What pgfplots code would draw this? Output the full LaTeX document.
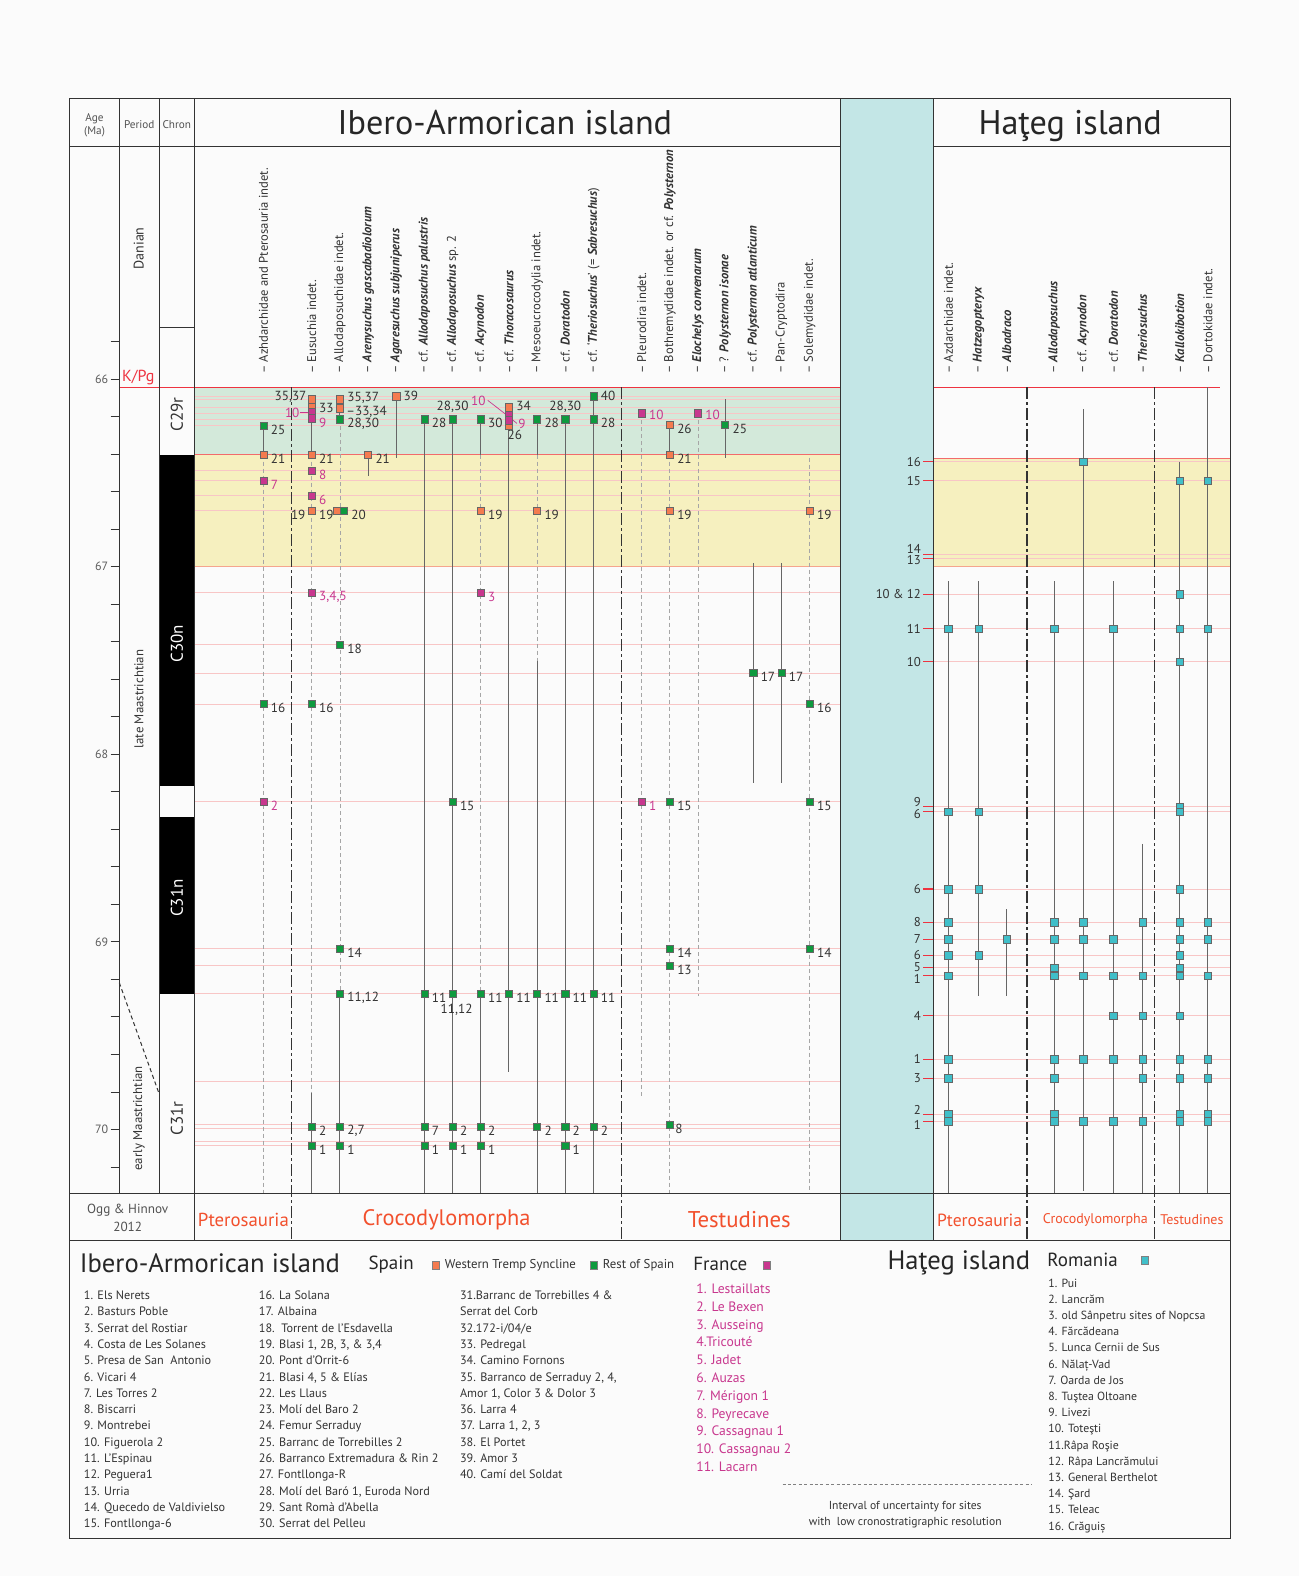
\documentclass[border=0pt]{standalone}
\usepackage{pgfplots}
\usepackage{pgfplotstable}
\pgfplotsset{compat=1.18}
\usepackage{fontspec}
\setmainfont{PT Sans}
\setsansfont{PT Sans}

\definecolor{ink}{HTML}{333333}
\definecolor{pagebg}{HTML}{FBFBFB}
\definecolor{kpg}{HTML}{EE3340}
\definecolor{pinkl}{HTML}{F8C6C6}
\definecolor{bandred}{HTML}{F26B6B}
\definecolor{bandlow}{HTML}{F5A58E}
\definecolor{greenband}{HTML}{D3E9DA}
\definecolor{yellowband}{HTML}{F6F0BF}
\definecolor{cyanband}{HTML}{C3E6E6}
\definecolor{wts}{HTML}{F47B4F}
\definecolor{ros}{HTML}{0E9A3E}
\definecolor{fra}{HTML}{C8378E}
\definecolor{rom}{HTML}{40BFC9}
\definecolor{grp}{HTML}{F2502D}
\definecolor{rng}{HTML}{666666}

\newcommand{\fs}[1]{\fontsize{#1pt}{#1pt}\selectfont}
\newcommand{\bi}[1]{\textbf{\textit{#1}}}
% label placed off a point: colour, x, y, anchor, dx, dy (px, up positive), text
\newcommand{\lab}[7]{\node[anchor=#4, xshift=#5*0.5pt, yshift=#6*0.5pt, inner sep=0pt,
  font=\fs{6.6}, text=#1] at (axis cs:#2,#3) {#7};}

% ---------- data (x = column position, y = age in Ma) ----------
\pgfplotstableread{
x y
262 66.402
310 66.107
310 66.150
310 66.402
310 66.702
338 66.107
338 66.155
335 66.702
366 66.402
394 66.091
478 66.702
506 66.150
506 66.247
534 66.702
666 66.244
666 66.402
666 66.702
805 66.702
}\tremp

\pgfplotstableread{
x y
262 66.247
262 67.732
310 67.732
310 69.984
310 70.086
338 66.214
342 66.702
338 67.416
338 69.035
338 69.276
338 69.984
338 70.086
422 66.214
422 69.276
422 69.984
422 70.086
450 66.214
450 68.252
450 69.276
450 69.984
450 70.086
478 66.214
478 69.276
478 69.984
478 70.086
506 69.276
534 66.214
534 69.276
534 69.984
562 66.214
562 69.276
562 69.984
562 70.086
590 66.091
590 66.214
590 69.276
590 69.984
666 68.252
666 69.035
666 69.126
666 69.973
721 66.244
749 67.566
777 67.566
805 67.732
805 68.252
805 69.035
}\restspain

\pgfplotstableread{
x y
262 66.542
262 68.252
310 66.177
310 66.209
310 66.488
310 66.622
310 67.137
478 67.137
506 66.190
506 66.219
638 66.182
638 68.252
694 66.182
}\france

\pgfplotstableread{
x y
943 67.330
943 68.306
943 68.718
943 68.895
943 68.987
943 69.072
943 69.180
943 69.625
943 69.727
943 69.920
943 69.957
973 67.330
973 68.306
973 68.718
973 69.072
1001 68.987
1048 67.330
1048 68.895
1048 68.987
1048 69.137
1048 69.180
1048 69.625
1048 69.727
1048 69.920
1048 69.957
1077 66.440
1077 68.895
1077 68.987
1077 69.180
1077 69.625
1077 69.957
1107 67.330
1107 68.987
1107 69.180
1107 69.394
1107 69.625
1107 69.957
1136 68.895
1136 69.180
1136 69.394
1136 69.625
1136 69.727
1136 69.957
1173 66.542
1173 67.147
1173 67.330
1173 67.507
1173 68.279
1173 68.306
1173 68.718
1173 68.895
1173 68.987
1173 69.072
1173 69.137
1173 69.180
1173 69.394
1173 69.625
1173 69.727
1173 69.920
1173 69.957
1201 66.542
1201 67.330
1201 68.895
1201 68.987
1201 69.180
1201 69.625
1201 69.727
1201 69.920
1201 69.957
}\romania

% labels set to the right of their square
\pgfplotstableread{
x y lab
262 66.247 25
262 66.402 21
262 67.732 16
310 66.402 21
310 66.702 19
310 67.732 16
310 69.984 2
310 70.086 1
338 66.214 28,30
342 66.702 20
338 67.416 18
338 69.035 14
338 69.276 11,12
338 69.984 2,7
338 70.086 1
366 66.402 21
422 66.214 28
422 69.276 11
422 69.984 7
422 70.086 1
450 68.252 15
450 69.984 2
450 70.086 1
478 66.214 30
478 66.702 19
478 69.276 11
478 69.984 2
478 70.086 1
506 69.276 11
534 66.214 28
534 66.702 19
534 69.276 11
534 69.984 2
562 69.276 11
562 69.984 2
562 70.086 1
590 66.214 28
590 69.276 11
590 69.984 2
666 66.244 26
666 66.402 21
666 66.702 19
666 68.252 15
666 69.035 14
666 69.126 13
721 66.244 25
749 67.566 17
777 67.566 17
805 66.702 19
805 67.732 16
805 68.252 15
805 69.035 14
}\labspain

\pgfplotstableread{
x y lab
262 66.542 7
262 68.252 2
310 66.209 9
310 66.488 8
310 66.622 6
310 67.137 3,4,5
478 67.137 3
638 68.252 1
}\labfrance

% solid ranges (segments separated by nan)
\pgfplotstableread{
x y
262 66.247
262 66.402
nan nan
310 66.107
310 66.402
nan nan
310 69.800
310 70.343
nan nan
338 66.107
338 66.214
nan nan
338 69.276
338 70.343
nan nan
366 66.402
366 66.515
nan nan
394 66.091
394 66.418
nan nan
422 66.214
422 70.343
nan nan
450 66.214
450 70.343
nan nan
478 66.214
478 66.402
nan nan
478 69.276
478 70.343
nan nan
506 66.150
506 69.694
nan nan
534 66.214
534 66.402
nan nan
534 67.500
534 70.343
nan nan
562 66.214
562 70.343
nan nan
590 66.091
590 70.343
nan nan
666 66.244
666 66.402
nan nan
721 66.107
721 66.418
nan nan
749 66.981
749 68.150
nan nan
777 66.981
777 68.150
nan nan
943 67.078
943 70.343
nan nan
973 67.078
973 69.287
nan nan
1001 68.826
1001 69.287
nan nan
1048 67.078
1048 70.343
nan nan
1077 66.161
1077 70.330
nan nan
1107 67.078
1107 70.343
nan nan
1136 68.477
1136 70.343
nan nan
1173 66.440
1173 70.343
nan nan
1201 66.043
1201 70.343
}\solidrng

\pgfplotstableread{
x y
262 66.402
262 70.343
nan nan
310 66.402
310 69.800
nan nan
338 66.214
338 69.276
nan nan
478 66.402
478 69.276
nan nan
534 66.402
534 67.500
nan nan
638 66.182
638 69.839
nan nan
666 66.402
666 70.343
nan nan
694 66.182
694 69.287
nan nan
805 66.418
805 70.343
}\dashrng

\pgfplotsset{
  sq/.style={only marks, mark=square*, mark size=1.8pt,
    mark options={fill=#1, draw=black!60, line width=0.3pt, solid}},
  lbl/.style={draw=none, mark=none, point meta=explicit symbolic,
    nodes near coords,
    every node near coord/.append style={anchor=west, xshift=3.5pt,
      yshift=-2pt, inner sep=0pt, font=\fs{6.6}, text=#1}},
}

\begin{document}
\begin{tikzpicture}
\useasboundingbox (0,0) rectangle (649.5pt,788pt);
\fill[pagebg] (0,0) rectangle (649.5pt,788pt);
\begin{axis}[at={(0,0)}, anchor=south west, scale only axis,
  width=649.5pt, height=788pt, xmin=0, xmax=1291.5,
  ymin=63.9786, ymax=72.3801, y dir=reverse, hide axis, clip=false,
  unbounded coords=jump]

% bands
\addplot[fill=greenband, draw=none] coordinates {(193,66.043) (836,66.043) (836,66.402) (193,66.402)};
\addplot[fill=yellowband, draw=none] coordinates {(193,66.402) (836,66.402) (836,67.0) (193,67.0)};
\addplot[fill=yellowband, draw=none] coordinates {(928,66.424) (1223,66.424) (1223,67.0) (928,67.0)};
\addplot[fill=cyanband, draw=none] coordinates {(836,64.504) (928,64.504) (928,70.590) (836,70.590)};

% magnetic chrons
\addplot[fill=black, draw=none] coordinates {(158.4,66.402) (193.2,66.402) (193.2,68.166) (158.4,68.166)};
\addplot[fill=black, draw=none] coordinates {(158.4,68.332) (193.2,68.332) (193.2,69.276) (158.4,69.276)};

% site levels
\pgfplotsinvokeforeach{66.091,66.107,66.150,66.182,66.214,66.247,66.488,66.542,66.622,66.702,67.137,67.416,67.566,67.732,68.252,69.035,69.126,69.276,69.743,69.973,69.995,70.064,70.086}{
  \addplot[pinkl, line width=0.45pt] coordinates {(193,#1) (836,#1)};
}
\pgfplotsinvokeforeach{66.440,66.542,66.933,66.954,67.147,67.330,67.507,68.279,68.306,68.718,68.895,68.987,69.072,69.137,69.180,69.394,69.625,69.727,69.920,69.957}{
  \addplot[pinkl, line width=0.45pt] coordinates {(928,#1) (1223,#1)};
  \addplot[kpg, line width=0.6pt] coordinates {(918,#1) (928,#1)};
}

% boundaries
\addplot[kpg, line width=0.7pt] coordinates {(118.6,66.043) (836,66.043)};
\addplot[kpg, line width=0.7pt] coordinates {(928,66.043) (1213,66.043)};
\addplot[bandred, line width=0.7pt] coordinates {(193,66.402) (836,66.402)};
\addplot[bandred, line width=0.7pt] coordinates {(928,66.424) (1223,66.424)};
\addplot[bandlow, line width=0.6pt] coordinates {(193,67.0) (836,67.0)};
\addplot[bandlow, line width=0.6pt] coordinates {(928,67.0) (1223,67.0)};

% age ticks
\pgfplotsinvokeforeach{65.8,66.0,66.2,66.4,66.6,66.8,67.0,67.2,67.4,67.6,67.8,68.0,68.2,68.4,68.6,68.8,69.0,69.2,69.4,69.6,69.8,70.0,70.2}{
  \draw[ink, line width=0.5pt] (axis cs:110,#1) -- (axis cs:118.6,#1);
}

% ranges
\addplot[rng, line width=0.5pt] table {\solidrng};
\addplot[gray!70, line width=0.45pt, dash pattern=on 2pt off 1.5pt] table {\dashrng};

% group separators
\pgfplotsinvokeforeach{290,618,1021,1148}{
  \addplot[ink, line width=0.6pt, dash pattern=on 6pt off 1.5pt on 1.5pt off 1.5pt] coordinates {(#1,66.043) (#1,70.590)};
}

% leader lines
\draw[fra, line width=0.35pt] (axis cs:298,66.177) -- (axis cs:306,66.177);
\draw[fra, line width=0.35pt] (axis cs:485,66.113) -- (axis cs:503,66.188);
\draw[fra, line width=0.35pt] (axis cs:509,66.214) -- (axis cs:514,66.236);

% occurrences
\addplot[sq=wts] table {\tremp};
\addplot[sq=ros] table {\restspain};
\addplot[sq=fra] table {\france};
\addplot[sq=rom, mark size=1.9pt] table {\romania};

% labels
\addplot[lbl=ink] table[meta=lab] {\labspain};
\addplot[lbl=fra] table[meta=lab] {\labfrance};
\lab{ink}{310}{66.107}{east}{-5}{2}{35,37}
\lab{ink}{310}{66.150}{west}{7}{-1}{33}
\lab{ink}{310}{66.702}{east}{-6}{-4}{19}
\lab{ink}{338}{66.107}{west}{7}{1}{35,37}
\lab{ink}{338}{66.155}{west}{6}{-4}{–33,34}
\lab{ink}{394}{66.091}{west}{7}{0}{39}
\lab{ink}{450}{66.214}{south}{0}{6}{28,30}
\lab{ink}{450}{69.276}{north}{4}{-10}{11,12}
\lab{ink}{506}{66.150}{west}{7}{1}{34}
\lab{ink}{506}{66.247}{north}{6}{-4}{26}
\lab{ink}{562}{66.214}{south}{0}{6}{28,30}
\lab{ink}{590}{66.091}{west}{7}{0}{40}
\lab{ink}{666}{69.973}{west}{5}{-4}{8}
\lab{fra}{310}{66.177}{east}{-12}{0}{10}
\lab{fra}{506}{66.190}{east}{-23}{14}{10}
\lab{fra}{506}{66.219}{west}{9}{-4}{9}
\lab{fra}{638}{66.182}{west}{7}{-2}{10}
\lab{fra}{694}{66.182}{west}{7}{-2}{10}
\end{axis}

\begin{scope}[x=0.5029pt,y=-0.5029pt,shift={(0,788pt)}]
% frame
\draw[ink, line width=0.6pt] (69,98) rectangle (1223,1530);
\draw[ink, line width=0.6pt] (69,145.5) -- (836,145.5) (928,145.5) -- (1223,145.5);
\draw[ink, line width=0.6pt] (69,1187) -- (1223,1187) (69,1233) -- (1223,1233);
\draw[ink, line width=0.6pt] (118.6,98) -- (118.6,1187) (158.4,98) -- (158.4,1187) (193.2,98) -- (193.2,1233);
\draw[ink, line width=0.6pt] (836,98) -- (836,1233) (928,98) -- (928,1233);
\draw[ink, line width=0.6pt] (158.4,326) -- (193.2,326);
\draw[ink, line width=0.5pt, dash pattern=on 2pt off 1.5pt] (118.6,977) -- (158.4,1088);

% header
\node[font=\fs{5.6}, text=ink!85] at (94,118) {Age};
\node[font=\fs{5.6}, text=ink!85] at (94,131) {(Ma)};
\node[font=\fs{5.6}, text=ink!85] at (138.5,124) {Period};
\node[font=\fs{5.6}, text=ink!85] at (175.8,124) {Chron};
\node[font=\fs{17.1}, text=black!85, anchor=base] at (502,133.5) {Ibero-Armorican island};
\node[font=\fs{17.1}, text=black!85, anchor=base] at (1064,133.5) {Haţeg island};

% period and chron names
\node[font=\fs{7}, text=ink, rotate=90] at (138,247) {Danian};
\node[font=\fs{6.4}, text=ink, rotate=90] at (138,695) {late Maastrichtian};
\node[font=\fs{6.4}, text=ink, rotate=90] at (138,1112) {early Maastrichtian};
\node[font=\fs{8}, text=kpg, anchor=west, inner sep=0pt] at (121,375) {K/Pg};
\node[font=\fs{8.5}, text=ink, rotate=90] at (176,412) {C29r};
\node[font=\fs{8.5}, text=white, rotate=90] at (176,640) {C30n};
\node[font=\fs{8.5}, text=white, rotate=90] at (176,893) {C31n};
\node[font=\fs{8.5}, text=ink, rotate=90] at (176,1112) {C31r};

% age labels
\foreach \a/\p in {66/377,67/563.5,68/750,69/936.5,70/1123}
  \node[font=\fs{6}, text=ink!80, anchor=east, inner sep=0pt] at (108,\p) {\a};

% taxa
\begin{scope}[every node/.style={rotate=90, anchor=west, inner sep=0pt, font=\fs{6.3}, text=ink}]
\node at (262,372) {– Azhdarchidae and Pterosauria indet.};
\node at (310,372) {– Eusuchia indet.};
\node at (338,372) {– Allodaposuchidae indet.};
\node at (366,372) {– \bi{Arenysuchus gascabadiolorum}};
\node at (394,372) {– \bi{Agaresuchus subjuniperus}};
\node at (422,372) {– cf. \bi{Allodaposuchus palustris}};
\node at (450,372) {– cf. \bi{Allodaposuchus} sp. 2};
\node at (478,372) {– cf. \bi{Acynodon}};
\node at (506,372) {– cf. \bi{Thoracosaurus}};
\node at (534,372) {– Mesoeucrocodylia indet.};
\node at (562,372) {– cf. \bi{Doratodon}};
\node at (590,372) {– cf. ‘\bi{Theriosuchus}’ (= \bi{Sabresuchus})};
\node at (638,372) {– Pleurodira indet.};
\node at (666,372) {– Bothremydidae indet. or cf. \bi{Polysternon}};
\node at (694,372) {– \bi{Elochelys convenarum}};
\node at (721,372) {– ? \bi{Polysternon isonae}};
\node at (749,372) {– cf. \bi{Polysternon atlanticum}};
\node at (777,372) {– Pan-Cryptodira};
\node at (805,372) {– Solemydidae indet.};
\node at (943,372) {– Azdarchidae indet.};
\node at (973,372) {– \bi{Hatzegopteryx}};
\node at (1001,372) {– \bi{Albadraco}};
\node at (1048,372) {– \bi{Allodaposuchus}};
\node at (1077,372) {– cf. \bi{Acynodon}};
\node at (1107,372) {– cf. \bi{Doratodon}};
\node at (1136,372) {– \bi{Theriosuchus}};
\node at (1173,372) {– \bi{Kallokibotion}};
\node at (1201,372) {– Dortokidae indet.};
\end{scope}

% Hateg level numbers
\begin{scope}[every node/.style={anchor=east, inner sep=0pt, font=\fs{6.4}, text=ink}]
\node at (916,459) {16};
\node at (916,478) {15};
\node at (916,546) {14};
\node at (916,557) {13};
\node at (916,591) {10 \& 12};
\node at (916,625) {11};
\node at (916,658) {10};
\node at (916,797) {9};
\node at (916,809) {6};
\node at (916,884) {6};
\node at (916,917) {8};
\node at (916,934) {7};
\node at (916,950) {6};
\node at (916,962) {5};
\node at (916,973) {1};
\node at (916,1010) {4};
\node at (916,1053) {1};
\node at (916,1072) {3};
\node at (916,1104) {2};
\node at (916,1118) {1};
\end{scope}

% footer
\node[font=\fs{6.6}, text=ink!85] at (127,1203) {Ogg \& Hinnov};
\node[font=\fs{6.6}, text=ink!85] at (127,1220) {2012};
\node[font=\fs{9.4}, text=grp] at (242,1213) {Pterosauria};
\node[font=\fs{11.2}, text=grp] at (444,1213) {Crocodylomorpha};
\node[font=\fs{11.4}, text=grp] at (735,1213) {Testudines};
\node[font=\fs{8.8}, text=grp] at (974,1213) {Pterosauria};
\node[font=\fs{7}, text=grp] at (1089,1213) {Crocodylomorpha};
\node[font=\fs{7}, text=grp] at (1185,1213) {Testudines};

% legend
\node[font=\fs{13.3}, text=black!85, anchor=west, inner sep=0pt] at (79,1256) {Ibero-Armorican island};
\node[font=\fs{9.5}, text=black!85, anchor=west, inner sep=0pt] at (366,1257) {Spain};
\node[fill=wts, draw=black!50, line width=0.3pt, minimum size=3.6pt, inner sep=0pt] at (433,1258) {};
\node[font=\fs{6.4}, text=ink, anchor=west, inner sep=0pt] at (442,1258) {Western Tremp Syncline};
\node[fill=ros, draw=black!50, line width=0.3pt, minimum size=3.6pt, inner sep=0pt] at (590,1258) {};
\node[font=\fs{6.4}, text=ink, anchor=west, inner sep=0pt] at (599,1258) {Rest of Spain};
\node[font=\fs{9.5}, text=black!85, anchor=west, inner sep=0pt] at (689,1257) {France};
\node[fill=fra, draw=black!50, line width=0.3pt, minimum size=3.6pt, inner sep=0pt] at (762,1258) {};
\node[font=\fs{13.3}, text=black!85, anchor=west, inner sep=0pt] at (882,1256) {Haţeg island};
\node[font=\fs{9.5}, text=black!85, anchor=west, inner sep=0pt] at (1041,1253) {Romania};
\node[fill=rom, draw=black!50, line width=0.3pt, minimum size=3.6pt, inner sep=0pt] at (1138,1253) {};

\begin{scope}[every node/.style={anchor=north west, align=left, inner sep=0pt, text=ink}]
\node[font=\fontsize{6.1pt}{8.15pt}\selectfont] at (83,1283) {1. Els Nerets\\2. Basturs Poble\\3. Serrat del Rostiar\\4. Costa de Les Solanes\\5. Presa de San\ \ Antonio\\6. Vicari 4\\7. Les Torres 2\\8. Biscarri\\9. Montrebei\\10. Figuerola 2\\11. L'Espinau\\12. Peguera1\\13. Urria\\14. Quecedo de Valdivielso\\15. Fontllonga-6};
\node[font=\fontsize{6.1pt}{8.15pt}\selectfont] at (257,1283) {16. La Solana\\17. Albaina\\18.\ \ Torrent de l'Esdavella\\19. Blasi 1, 2B, 3, \& 3,4\\20. Pont d'Orrit-6\\21. Blasi 4, 5 \& Elías\\22. Les Llaus\\23. Molí del Baro 2\\24. Femur Serraduy\\25. Barranc de Torrebilles 2\\26. Barranco Extremadura \& Rin 2\\27. Fontllonga-R\\28. Molí del Baró 1, Euroda Nord\\29. Sant Romà d'Abella\\30. Serrat del Pelleu};
\node[font=\fontsize{6.1pt}{8.15pt}\selectfont] at (457,1283) {31.Barranc de Torrebilles 4 \&\\Serrat del Corb\\32.172-i/04/e\\33. Pedregal\\34. Camino Fornons\\35. Barranco de Serraduy 2, 4,\\Amor 1, Color 3 \& Dolor 3\\36. Larra 4\\37. Larra 1, 2, 3\\38. El Portet\\39. Amor 3\\40. Camí del Soldat};
\node[font=\fontsize{6.8pt}{8.9pt}\selectfont, text=fra] at (692,1276) {1. Lestaillats\\2. Le Bexen\\3. Ausseing\\4.Tricouté\\5. Jadet\\6. Auzas\\7. Mérigon 1\\8. Peyrecave\\9. Cassagnau 1\\10. Cassagnau 2\\11. Lacarn};
\node[font=\fontsize{5.9pt}{8.1pt}\selectfont] at (1042,1271) {1. Pui\\2. Lancrăm\\3. old Sânpetru sites of Nopcsa\\4. Fărcădeana\\5. Lunca Cernii de Sus\\6. Nălaț-Vad\\7. Oarda de Jos\\8. Tuştea Oltoane\\9. Livezi\\10. Toteşti\\11.Râpa Roşie\\12. Râpa Lancrămului\\13. General Berthelot\\14. Şard\\15. Teleac\\16. Crăguiș};
\end{scope}
\draw[gray, line width=0.4pt, dash pattern=on 1.5pt off 1.2pt] (778,1476) -- (1026,1476);
\node[font=\fs{5.8}, text=ink] at (900,1498) {Interval of uncertainty for sites};
\node[font=\fs{5.8}, text=ink] at (900,1514) {with\ \ low cronostratigraphic resolution};
\end{scope}
\end{tikzpicture}
\end{document}
